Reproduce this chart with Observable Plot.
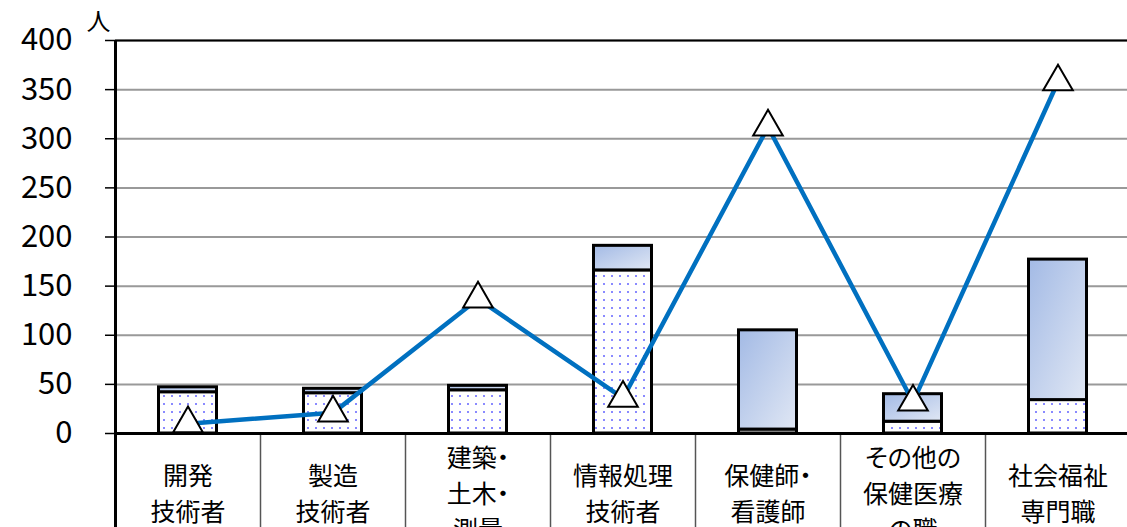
<!DOCTYPE html>
<html><head><meta charset="utf-8">
<script src="https://cdn.jsdelivr.net/npm/d3@7"></script>
<script src="https://cdn.jsdelivr.net/npm/@observablehq/plot@0.6"></script>
<style>body{margin:0;background:#fff;overflow:hidden} svg text{font-feature-settings:"palt" 1;}</style>
</head><body><div id="chart"></div>
<script>
const categories = ["開発技術者","製造技術者","建築・土木・測量","情報処理技術者","保健師・看護師","その他の保健医療の職","社会福祉専門職"];
const categoryLabels = ["開発\n技術者","製造\n技術者","建築・\n土木・\n測量","情報処理\n技術者","保健師・\n看護師","その他の\n保健医療\nの職","社会福祉\n専門職"];
const lowerValues = [42, 41, 44, 166, 4, 12, 34];
const upperValues = [5, 4.5, 4.5, 25, 101, 28, 143];
const lineValues = [10, 21, 137, 36, 312, 32, 358];
const yTicks = [0, 50, 100, 150, 200, 250, 300, 350, 400];
const unitLabel = "人";

const rows = categories.map((c, i) => ({
  cat: c, label: categoryLabels[i], lower: lowerValues[i], total: lowerValues[i] + upperValues[i], line: lineValues[i]
}));

const defs = () => {
  const s = d3.create("svg:defs");
  const p = s.append("pattern").attr("id", "dots").attr("width", 8).attr("height", 8).attr("patternUnits", "userSpaceOnUse");
  p.append("rect").attr("width", 8).attr("height", 8).attr("fill", "#fff");
  p.append("rect").attr("x", 3).attr("y", 3).attr("width", 2).attr("height", 2).attr("fill", "#8a8aff");
  const g = s.append("linearGradient").attr("id", "grad").attr("x1", 0).attr("y1", 0).attr("x2", 1).attr("y2", 1);
  g.append("stop").attr("offset", 0).attr("stop-color", "#a3bae5");
  g.append("stop").attr("offset", 1).attr("stop-color", "#e0e7f4");
  return s.node();
};

const bandW = (1130 - 115) / categories.length;

const chart = Plot.plot({
  width: 1127,
  height: 527,
  marginLeft: 115,
  marginRight: 0,
  marginTop: 40,
  marginBottom: 94,
  style: {fontFamily: "'Noto Sans CJK JP', sans-serif", background: "#fff", color: "#000", overflow: "visible"},
  x: {domain: categories, range: [115, 1130], padding: 0, label: null},
  y: {domain: [0, 400], range: [433, 40], label: null},
  marks: [
    defs,
    Plot.gridY(yTicks, {stroke: "#999", strokeOpacity: 1, strokeWidth: 2}),
    Plot.ruleY([400], {stroke: "#000", strokeWidth: 2}),
    Plot.axisY(yTicks, {tickSize: 10, tickPadding: 33, fontSize: 31, stroke: "#000", strokeWidth: 1.5, label: null}),
    Plot.axisX({tickSize: 94, dx: -bandW / 2, text: null, stroke: "#555", strokeWidth: 1.5, label: null}),
    Plot.axisX([categories[0]], {tickSize: 94, dx: -bandW / 2, text: null, stroke: "#000", strokeWidth: 3, label: null}),
    Plot.ruleX([categories[0]], {dx: -bandW / 2, stroke: "#000", strokeWidth: 3}),
    Plot.barY(rows, {x: "cat", y1: 0, y2: "lower", fill: "url(#dots)", stroke: "#000", strokeWidth: 3, insetLeft: 43.5, insetRight: 43.5}),
    Plot.barY(rows, {x: "cat", y1: "lower", y2: "total", fill: "url(#grad)", stroke: "#000", strokeWidth: 3, insetLeft: 43.5, insetRight: 43.5}),
    Plot.ruleY([0], {stroke: "#000", strokeWidth: 3}),
    Plot.line(rows, {x: "cat", y: "line", stroke: "#0070c0", strokeWidth: 4.5}),
    Plot.dot(rows, {x: "cat", y: "line", symbol: "triangle", r: 11, fill: "#fff", stroke: "#000", strokeWidth: 2}),
    Plot.text(rows, {x: "cat", text: "label", frameAnchor: "bottom", dy: 58, lineAnchor: "middle", lineHeight: 1.45, fontSize: 25, fill: "#000"}),
    Plot.text([unitLabel], {frameAnchor: "top-left", dx: -17, dy: -18, textAnchor: "middle", lineAnchor: "middle", fontSize: 24, fill: "#000"})
  ]
});
document.getElementById("chart").append(chart);
</script>
</body></html>
